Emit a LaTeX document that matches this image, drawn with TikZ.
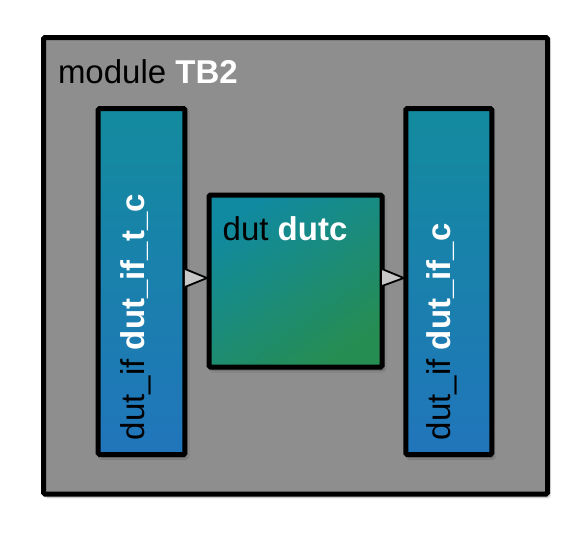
\documentclass[tikz,border=0pt]{standalone}
\usepackage{fontspec}
\setmainfont{Liberation Sans}
\usetikzlibrary{shadows.blur,calc}
\definecolor{outerfill}{HTML}{8E8E8E}
\definecolor{barTop}{HTML}{138B9E}
\definecolor{barBot}{HTML}{2175BB}
\definecolor{dutTL}{HTML}{108AA0}
\definecolor{dutBR}{HTML}{268D52}
\definecolor{portfill}{HTML}{C8C8C8}
\tikzset{
  blk/.style={draw=black, line width=5pt, inner sep=0pt, outer sep=0pt, rounded corners=1.5pt,
    blur shadow={shadow xshift=2pt, shadow yshift=-3pt, shadow blur steps=6, shadow opacity=35}},
  outerbox/.style={blk, fill=outerfill},
  ifbox/.style={blk, top color=barTop, bottom color=barBot},
  dutbox/.style={blk, top color=dutTL, bottom color=dutBR, shading angle=35},
  lbl/.style={inner sep=0pt, outer sep=0pt, font=\fontsize{33}{33}\selectfont},
  port/.style={draw=black, line width=1.8pt, fill=portfill, line join=miter}
}
\begin{document}
\begin{tikzpicture}[x=1pt,y=-1pt]
\useasboundingbox (0,0) rectangle (588,544);
\node[outerbox, minimum width=504pt, minimum height=456.5pt] (tb) at (295.5,265.75) {};
\node[lbl, anchor=base west] (tblbl) at (58,83) {module \textbf{\color{white}TB2}};
\node[ifbox, minimum width=86.75pt, minimum height=346pt] (ift) at (141.6,281.5) {};
\node[ifbox, minimum width=86pt, minimum height=346pt] (ifc) at (448.75,281.5) {};
\node[dutbox, minimum width=173pt, minimum height=172pt] (dut) at (295.5,281) {};
\node[lbl, anchor=base west] (dutlbl) at (222.7,240.5) {dut \textbf{\color{white}dutc}};
\node[lbl, rotate=90, anchor=base west] (iftlbl) at (144,440) {dut\_if \textbf{\color{white}dut\_if\_t\_c}};
\node[lbl, rotate=90, anchor=base west] (ifclbl) at (450,440) {dut\_if \textbf{\color{white}dut\_if\_c}};
\coordinate (p1tip) at ($(dut.west)+(-2,-3)$);
\draw[port] ($(ift.east)+(0,-12.5)$) -- (p1tip) -- ($(ift.east)+(0,5.5)$);
\coordinate (p2tip) at ($(ifc.west)+(-2,-3.5)$);
\draw[port] ($(dut.east)+(0,-12)$) -- (p2tip) -- ($(dut.east)+(0,5)$);
\end{tikzpicture}
\end{document}
